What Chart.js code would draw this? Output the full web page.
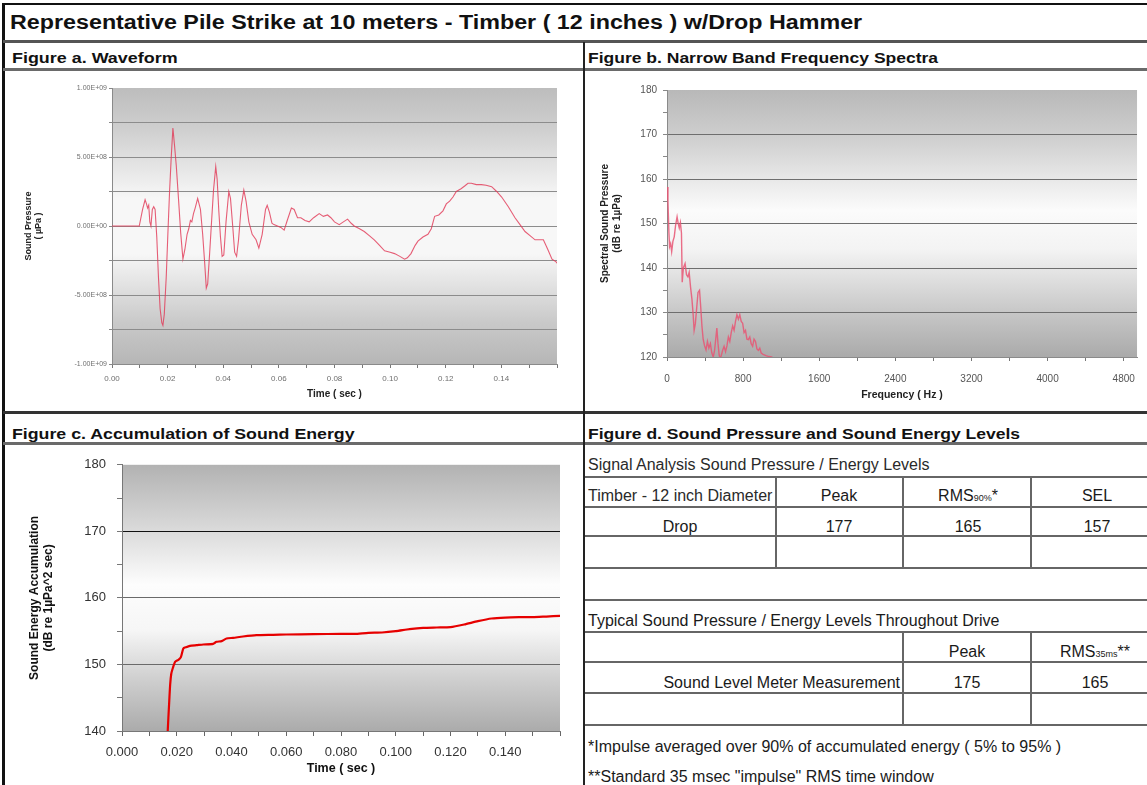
<!DOCTYPE html>
<html lang="en">
<head>
<meta charset="utf-8">
<script src="https://cdn.jsdelivr.net/npm/chart.js@4.4.1/dist/chart.umd.min.js"></script>
<style>
  html, body { margin: 0; padding: 0; background: #fff; }
  body {
    width: 1147px; height: 785px; overflow: hidden; position: relative;
    font-family: 'Liberation Sans', Arial, sans-serif; color: #111;
  }
  .ln { position: absolute; }
  .head {
    position: absolute; font-weight: bold; font-size: 15px; line-height: 1;
    white-space: nowrap; transform-origin: 0 50%; transform: translateY(-50%);
  }
  .t, .tl, .tr { position: absolute; white-space: nowrap; font-size: 16px; line-height: 1; color: #1a1a1a; }
  .t  { transform: translate(-50%, -50%); }
  .tl { transform: translate(0, -50%); }
  .tr { transform: translate(-100%, -50%); }
  .sm { font-size: 9px; }
  .chart-box { position: absolute; }
</style>
</head>
<body>

<!-- frame and section rules -->
<div class="ln" style="left:3px; top:3px; width:1144px; height:2px; background:#111;"></div>
<div class="ln" style="left:2px; top:3px; width:3px; height:782px; background:#111;"></div>
<div class="ln" style="left:3px; top:40px; width:1144px; height:3px; background:#555;"></div>
<div class="ln" style="left:3px; top:68px; width:1144px; height:3px; background:#6a6a6a;"></div>
<div class="ln" style="left:3px; top:411px; width:1144px; height:3px; background:#333;"></div>
<div class="ln" style="left:3px; top:442px; width:1144px; height:3px; background:#6a6a6a;"></div>
<div class="ln" style="left:583px; top:42px; width:2px; height:743px; background:#222;"></div>

<div class="head fit" data-w="852" style="left:10px; top:22px; font-size:20px;">Representative Pile Strike at 10 meters - Timber ( 12 inches ) w/Drop Hammer</div>
<div class="head fit" data-w="166" style="left:12px; top:57px;">Figure a. Waveform</div>
<div class="head fit" data-w="350" style="left:588px; top:57px;">Figure b. Narrow Band Frequency Spectra</div>
<div class="head fit" data-w="342" style="left:12px; top:433px;">Figure c. Accumulation of Sound Energy</div>
<div class="head fit" data-w="432" style="left:588px; top:433px;">Figure d. Sound Pressure and Sound Energy Levels</div>

<div class="chart-box" style="left:5px; top:72px; width:575px; height:338px;"><canvas id="waveChart"></canvas></div>
<div class="chart-box" style="left:586px; top:72px; width:561px; height:338px;"><canvas id="specChart"></canvas></div>
<div class="chart-box" style="left:5px; top:446px; width:575px; height:339px;"><canvas id="accChart"></canvas></div>

<!-- Figure d table rules -->
<div class="ln" style="left:585px; top:476px; width:562px; height:2px; background:#666;"></div>
<div class="ln" style="left:585px; top:506px; width:562px; height:2px; background:#666;"></div>
<div class="ln" style="left:585px; top:535px; width:562px; height:2px; background:#666;"></div>
<div class="ln" style="left:585px; top:567px; width:562px; height:2px; background:#666;"></div>
<div class="ln" style="left:585px; top:599px; width:562px; height:2px; background:#666;"></div>
<div class="ln" style="left:585px; top:631px; width:562px; height:2px; background:#666;"></div>
<div class="ln" style="left:585px; top:661px; width:562px; height:2px; background:#666;"></div>
<div class="ln" style="left:585px; top:692px; width:562px; height:2px; background:#666;"></div>
<div class="ln" style="left:585px; top:724px; width:562px; height:2px; background:#666;"></div>
<div class="ln" style="left:775px; top:476px; width:2px; height:93px; background:#666;"></div>
<div class="ln" style="left:902px; top:476px; width:2px; height:93px; background:#666;"></div>
<div class="ln" style="left:1030px; top:476px; width:2px; height:93px; background:#666;"></div>
<div class="ln" style="left:902px; top:631px; width:2px; height:95px; background:#666;"></div>
<div class="ln" style="left:1030px; top:631px; width:2px; height:95px; background:#666;"></div>

<div class="tl" style="left:588px; top:465px; color:#2a2a2a;">Signal Analysis Sound Pressure / Energy Levels</div>
<div class="tl" style="left:588px; top:496px; color:#2a2a2a;">Timber - 12 inch Diameter</div>
<div class="t" style="left:839px; top:496px;">Peak</div>
<div class="t" style="left:968px; top:496px;">RMS<span class="sm">90%</span>*</div>
<div class="t" style="left:1097px; top:496px;">SEL</div>
<div class="t" style="left:680px; top:527px;">Drop</div>
<div class="t" style="left:839px; top:527px;">177</div>
<div class="t" style="left:968px; top:527px;">165</div>
<div class="t" style="left:1097px; top:527px;">157</div>

<div class="tl" style="left:588px; top:621px;">Typical Sound Pressure / Energy Levels Throughout Drive</div>
<div class="t" style="left:967px; top:652px;">Peak</div>
<div class="t" style="left:1095px; top:652px;">RMS<span class="sm">35ms</span>**</div>
<div class="tr" style="left:900px; top:683px;">Sound Level Meter Measurement</div>
<div class="t" style="left:967px; top:683px;">175</div>
<div class="t" style="left:1095px; top:683px;">165</div>

<div class="tl" style="left:588px; top:747px;">*Impulse averaged over 90% of accumulated energy ( 5% to 95% )</div>
<div class="tl" style="left:588px; top:777px;">**Standard 35 msec "impulse" RMS time window</div>

<script>
// Figure a: waveform (time in s, pressure in µPa)
const waveTime = [
  0.0000, 0.0098, 0.0110, 0.0119, 0.0124, 0.0128, 0.0132, 0.0136, 0.0140, 0.0145,
  0.0150, 0.0155, 0.0161, 0.0167, 0.0173, 0.0179, 0.0183, 0.0188, 0.0195, 0.0201,
  0.0207, 0.0213, 0.0219, 0.0225, 0.0231, 0.0239, 0.0247, 0.0255, 0.0262, 0.0270,
  0.0276, 0.0282, 0.0287, 0.0293, 0.0299, 0.0308, 0.0313, 0.0318, 0.0326, 0.0333,
  0.0339, 0.0344, 0.0351, 0.0357, 0.0365, 0.0373, 0.0378, 0.0384, 0.0390, 0.0396,
  0.0402, 0.0410, 0.0420, 0.0426, 0.0434, 0.0441, 0.0448, 0.0455, 0.0465, 0.0474,
  0.0482, 0.0492, 0.0504, 0.0518, 0.0528, 0.0540, 0.0552, 0.0558, 0.0566, 0.0575,
  0.0582, 0.0595, 0.0607, 0.0619, 0.0630, 0.0645, 0.0655, 0.0667, 0.0679, 0.0694,
  0.0709, 0.0725, 0.0745, 0.0760, 0.0775, 0.0787, 0.0800, 0.0817, 0.0832, 0.0847,
  0.0860, 0.0871, 0.0890, 0.0907, 0.0925, 0.0943, 0.0962, 0.0980, 0.1000, 0.1016,
  0.1035, 0.1052, 0.1062, 0.1075, 0.1090, 0.1100, 0.1118, 0.1136, 0.1148, 0.1160,
  0.1175, 0.1190, 0.1202, 0.1214, 0.1226, 0.1238, 0.1255, 0.1268, 0.1280, 0.1292,
  0.1310, 0.1328, 0.1345, 0.1365, 0.1383, 0.1401, 0.1425, 0.1449, 0.1467, 0.1485,
  0.1503, 0.1521, 0.1536, 0.1551, 0.1567, 0.1582, 0.1597, 0.1600
];
const wavePressure = [
  0, 0, 1.2e8, 1.9e8, 1.6e8, 1.3e8, 1.5e8, 0.3e8, 0, 1.2e8,
  1.4e8, 1.2e8, -0.8e8, -3.7e8, -6.0e8, -7.0e8, -7.2e8, -6.4e8, -3.7e8, -0.5e8,
  2.5e8, 5.0e8, 7.1e8, 5.8e8, 4.4e8, 2.0e8, -0.5e8, -2.4e8, -1.7e8, -0.6e8,
  -0.2e8, 0.4e8, 0.3e8, 0.9e8, 1.3e8, 2.0e8, 1.6e8, 1.2e8, -0.6e8, -2.6e8,
  -4.5e8, -4.2e8, -2.0e8, 0, 2.6e8, 4.3e8, 3.4e8, 1.1e8, -0.8e8, -2.2e8,
  -2.1e8, 0.3e8, 2.5e8, 2.0e8, 0, -1.9e8, -2.2e8, -1.0e8, 1.5e8, 2.6e8,
  1.8e8, 0.3e8, -0.6e8, -1.0e8, -1.6e8, -0.6e8, 1.2e8, 1.5e8, 1.0e8, 0.2e8,
  0.1e8, 0, -0.1e8, -0.3e8, 0.4e8, 1.3e8, 1.2e8, 0.6e8, 0.6e8, 0.4e8,
  0.3e8, 0.6e8, 0.9e8, 0.7e8, 0.8e8, 0.6e8, 0.3e8, 0.1e8, 0.3e8, 0.5e8,
  0.2e8, 0, -0.2e8, -0.4e8, -0.7e8, -1.0e8, -1.4e8, -1.8e8, -1.9e8, -2.0e8,
  -2.2e8, -2.4e8, -2.3e8, -2.0e8, -1.4e8, -1.1e8, -0.8e8, -0.6e8, -0.2e8, 0.7e8,
  0.8e8, 1.1e8, 1.6e8, 1.8e8, 2.1e8, 2.5e8, 2.7e8, 2.9e8, 3.1e8, 3.1e8,
  3.0e8, 3.0e8, 2.95e8, 2.85e8, 2.5e8, 2.1e8, 1.4e8, 0.6e8, 0.1e8, -0.4e8,
  -0.7e8, -1.0e8, -1.0e8, -1.0e8, -1.7e8, -2.4e8, -2.6e8, -2.7e8
];
const waveTimeLabels = ['0.00', '0.02', '0.04', '0.06', '0.08', '0.10', '0.12', '0.14'];
const wavePressureLabels = ['-1.00E+09', '-5.00E+08', '0.00E+00', '5.00E+08', '1.00E+09'];

// Figure b: narrow band spectrum (Hz, dB re 1µPa)
const specFreq = [
  0, 10, 20, 27, 38, 49, 62, 76, 90, 106,
  118, 129, 141, 152, 160, 172, 190, 205, 220, 233,
  247, 262, 275, 285, 298, 312, 326, 342, 355, 367,
  380, 395, 410, 425, 440, 456, 470, 486, 500, 512,
  524, 536, 548, 560, 570, 585, 600, 615, 630, 645,
  660, 675, 690, 705, 720, 735, 750, 765, 780, 795,
  810, 825, 840, 855, 870, 885, 900, 915, 930, 945,
  960, 975, 990, 1010, 1040, 1070, 1100, 1130, 1200, 1300
];
const specLevel = [
  158.2, 155, 148, 144.8, 145.5, 143.7, 146, 147, 149.5, 151.5,
  150, 149, 150.2, 147.8, 136.8, 140, 141, 138.5, 138, 139,
  135.8, 133, 129.5, 126, 127.5, 131, 134.5, 135, 131, 127,
  124, 122.5, 121.6, 123.5, 122, 123, 121, 120, 121.5, 124,
  126.5, 123, 120.5, 119.5, 120.3, 121.5, 122.4, 121.2, 122.5, 124.5,
  123.5, 125.5, 127, 126, 128, 129.5, 128.5, 129.5, 128, 127.6,
  125.5, 126, 124, 123.9, 124.5, 123, 122.4, 124, 123.5, 121.8,
  121.5, 122, 120.9, 120.6, 120.3, 120.1, 120, 119.5, 118, 117
];
const specFreqLabels = ['0', '800', '1600', '2400', '3200', '4000', '4800'];
const specLevelLabels = ['120', '130', '140', '150', '160', '170', '180'];

// Figure c: accumulated sound energy (s, dB re 1µPa^2 sec)
const accTime = [
  0.0150, 0.0163, 0.0167, 0.0172, 0.0176, 0.0180, 0.0186, 0.0194, 0.0206, 0.0215,
  0.0224, 0.0234, 0.0248, 0.0273, 0.0297, 0.0333, 0.0345, 0.0364, 0.0382, 0.0406,
  0.0442, 0.0491, 0.0552, 0.0600, 0.0700, 0.0800, 0.0850, 0.0900, 0.0950, 0.1000,
  0.1050, 0.1100, 0.1150, 0.1200, 0.1250, 0.1300, 0.1350, 0.1400, 0.1450, 0.1500,
  0.1550, 0.1600
];
const accLevel = [
  120, 135, 140, 144, 147, 148.6, 149.5, 150.4, 150.7, 151.1,
  152.4, 152.6, 152.8, 152.9, 153.0, 153.1, 153.4, 153.5, 153.9, 154.0,
  154.2, 154.4, 154.45, 154.5, 154.55, 154.6, 154.6, 154.75, 154.8, 155.0,
  155.3, 155.5, 155.55, 155.6, 156.0, 156.5, 156.9, 157.05, 157.1, 157.1,
  157.2, 157.3
];
const accTimeLabels = ['0.000', '0.020', '0.040', '0.060', '0.080', '0.100', '0.120', '0.140'];
const accLevelLabels = ['140', '150', '160', '170', '180'];

Chart.defaults.font.family = "'Liberation Sans', Arial, sans-serif";
Chart.defaults.animation = false;

// stretch headings to the widths they take in the original
document.querySelectorAll('.fit').forEach(el => {
  const s = +el.dataset.w / el.offsetWidth;
  el.style.transform = 'translateY(-50%) scaleX(' + s + ')';
});

// grey-white-grey fill behind each plot area
const plotFill = {
  id: 'plotFill',
  beforeDraw(chart, args, opts) {
    const { ctx, chartArea: a } = chart;
    const g = ctx.createLinearGradient(0, a.top, 0, a.bottom);
    opts.stops.forEach(s => g.addColorStop(s[0], s[1]));
    ctx.save();
    ctx.fillStyle = g;
    ctx.fillRect(a.left, a.top, a.right - a.left, a.bottom - a.top);
    ctx.restore();
  }
};

function pts(xs, ys) {
  return xs.map((x, i) => ({ x: x, y: ys[i] }));
}

// major ticks carry a label, minor ticks sit halfway between them
function tickSet(first, step, count) {
  const out = [];
  for (let i = 0; i < count; i++) out.push({ value: +(first + i * step).toFixed(6) });
  return out;
}
function majorLabel(labels, first, majorStep) {
  return v => {
    const k = (v - first) / majorStep;
    const r = Math.round(k);
    return Math.abs(k - r) < 1e-6 && labels[r] !== undefined ? labels[r] : '';
  };
}

const noLegend = { legend: { display: false }, tooltip: { enabled: false } };

// Figure a
new Chart(document.getElementById('waveChart'), {
  type: 'line',
  data: {
    datasets: [{
      data: pts(waveTime, wavePressure),
      borderColor: 'rgba(225,55,85,0.8)',
      borderWidth: 1.1,
      pointRadius: 0,
      tension: 0
    }]
  },
  options: {
    responsive: true,
    maintainAspectRatio: false,
    layout: { padding: { left: 0, right: 23, top: 16, bottom: 0 } },
    plugins: Object.assign({
      plotFill: { stops: [[0, '#bdbdbd'], [0.15, '#cfcfcf'], [0.4, '#f7f7f7'], [0.6, '#f7f7f7'], [0.85, '#c9c9c9'], [1, '#b6b6b6']] }
    }, noLegend),
    scales: {
      x: {
        type: 'linear', min: 0, max: 0.16,
        afterFit: s => { s.height = 46; },
        afterBuildTicks: s => { s.ticks = tickSet(0, 0.01, 17); },
        grid: { drawOnChartArea: false, tickLength: 4, color: '#777' },
        border: { color: '#8a8a8a' },
        ticks: {
          autoSkip: false, maxRotation: 0, padding: 6,
          color: '#6f6f6f', font: { size: 8 },
          callback: majorLabel(waveTimeLabels, 0, 0.02)
        },
        title: {
          display: true, text: 'Time ( sec )', color: '#222',
          font: { size: 10, weight: 'bold' }, padding: { top: 0, bottom: 10 }
        }
      },
      y: {
        min: -1e9, max: 1e9,
        afterFit: s => { s.width = 107; },
        afterBuildTicks: s => { s.ticks = tickSet(-1e9, 2.5e8, 9); },
        grid: {
          color: c => (Math.abs(c.tick.value) >= 1e9 ? 'rgba(0,0,0,0)' : '#8c8c8c'),
          tickColor: '#888', tickLength: 3
        },
        border: { color: '#8a8a8a' },
        ticks: {
          autoSkip: false, padding: 2, color: '#6f6f6f', font: { size: 7 },
          callback: majorLabel(wavePressureLabels, -1e9, 5e8)
        },
        title: {
          display: true, text: ['Sound Pressure', '( µPa )'], color: '#222',
          font: { size: 9, weight: 'bold', lineHeight: '10px' }, padding: { top: 19, bottom: 0 }
        }
      }
    }
  },
  plugins: [plotFill]
});

// Figure b
new Chart(document.getElementById('specChart'), {
  type: 'line',
  data: {
    datasets: [{
      data: pts(specFreq, specLevel),
      borderColor: 'rgba(232,85,115,0.85)',
      borderWidth: 1.4,
      pointRadius: 0,
      tension: 0
    }]
  },
  options: {
    responsive: true,
    maintainAspectRatio: false,
    layout: { padding: { left: 0, right: 6, top: 18, bottom: 0 } },
    plugins: Object.assign({
      plotFill: { stops: [[0, '#b8b8b8'], [0.2, '#d2d2d2'], [0.45, '#fbfbfb'], [0.6, '#f3f3f3'], [0.85, '#c4c4c4'], [1, '#aaaaaa']] }
    }, noLegend),
    scales: {
      x: {
        type: 'linear', min: 0, max: 4940,
        afterFit: s => { s.height = 53; },
        afterBuildTicks: s => { s.ticks = tickSet(0, 400, 13); },
        grid: { drawOnChartArea: false, tickLength: 4, color: '#777' },
        border: { color: '#8a8a8a' },
        ticks: {
          autoSkip: false, maxRotation: 0, padding: 12,
          color: '#555', font: { size: 10 },
          callback: majorLabel(specFreqLabels, 0, 800)
        },
        title: {
          display: true, text: 'Frequency ( Hz )', color: '#222',
          font: { size: 10.5, weight: 'bold' }, padding: { top: 0, bottom: 9 }
        }
      },
      y: {
        min: 120, max: 180,
        afterFit: s => { s.width = 81; },
        afterBuildTicks: s => { s.ticks = tickSet(120, 5, 13); },
        grid: {
          color: c => (c.tick.value % 10 === 0 && c.tick.value > 120 && c.tick.value < 180 ? '#6e6e6e' : 'rgba(0,0,0,0)'),
          tickColor: '#888', tickLength: 4
        },
        border: { color: '#8a8a8a' },
        ticks: {
          autoSkip: false, padding: 6, color: '#555', font: { size: 10 },
          callback: majorLabel(specLevelLabels, 120, 10)
        },
        title: {
          display: true, text: ['Spectral Sound Pressure', '(dB re 1µPa)'], color: '#222',
          font: { size: 10, weight: 'bold', lineHeight: '12px' }, padding: { top: 13, bottom: 0 }
        }
      }
    }
  },
  plugins: [plotFill]
});

// Figure c
new Chart(document.getElementById('accChart'), {
  type: 'line',
  data: {
    datasets: [{
      data: pts(accTime, accLevel),
      borderColor: '#e60000',
      borderWidth: 2.2,
      pointRadius: 0,
      tension: 0.2
    }]
  },
  options: {
    responsive: true,
    maintainAspectRatio: false,
    layout: { padding: { left: 0, right: 20, top: 17, bottom: 0 } },
    plugins: Object.assign({
      plotFill: { stops: [[0, '#b2b2b2'], [0.22, '#d6d6d6'], [0.45, '#fdfdfd'], [0.62, '#f6f6f6'], [0.8, '#d0d0d0'], [1, '#ababab']] }
    }, noLegend),
    scales: {
      x: {
        type: 'linear', min: 0, max: 0.16,
        afterFit: s => { s.height = 54; },
        afterBuildTicks: s => { s.ticks = tickSet(0, 0.01, 17); },
        grid: { drawOnChartArea: false, tickLength: 5, color: '#666' },
        border: { color: '#777' },
        ticks: {
          autoSkip: false, maxRotation: 0, padding: 9,
          color: '#333', font: { size: 13 },
          callback: majorLabel(accTimeLabels, 0, 0.02)
        },
        title: {
          display: true, text: 'Time ( sec )', color: '#111',
          font: { size: 12.5, weight: 'bold' }, padding: { top: 0, bottom: 9 }
        }
      },
      y: {
        min: 140, max: 180,
        afterFit: s => { s.width = 117; },
        afterBuildTicks: s => { s.ticks = tickSet(140, 5, 9); },
        grid: {
          color: c => {
            const v = c.tick.value;
            if (v === 170) return '#111';
            if (v === 160 || v === 150) return '#6a6a6a';
            return 'rgba(0,0,0,0)';
          },
          tickColor: '#777', tickLength: 5
        },
        border: { color: '#777' },
        ticks: {
          autoSkip: false, padding: 11, color: '#333', font: { size: 13 },
          callback: majorLabel(accLevelLabels, 140, 10)
        },
        title: {
          display: true, text: ['Sound Energy Accumulation', '(dB re 1µPa^2 sec)'], color: '#111',
          font: { size: 12, weight: 'bold', lineHeight: '14px' }, padding: { top: 23, bottom: 0 }
        }
      }
    }
  },
  plugins: [plotFill]
});
</script>
</body>
</html>
